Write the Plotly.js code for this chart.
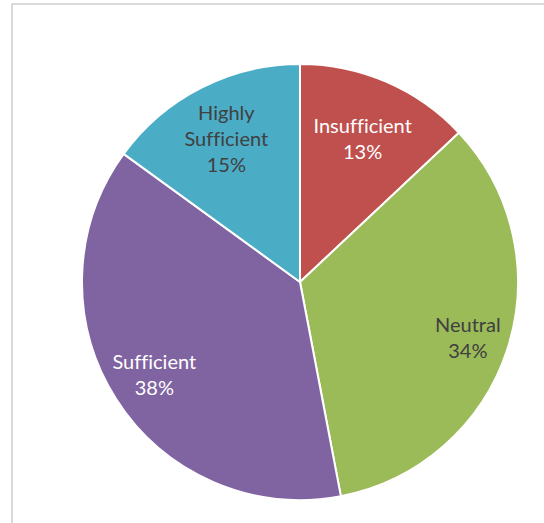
<!DOCTYPE html>
<html>
<head>
<meta charset="utf-8">
<script src="https://cdn.plot.ly/plotly-3.0.1.min.js"></script>
<style>
html,body{margin:0;padding:0;background:#fff;}
#wrap{position:relative;width:544px;height:523px;overflow:hidden;}
#frame{position:absolute;left:11px;top:3px;width:600px;height:600px;border-left:2px solid #D9D9D9;border-top:2px solid #D9D9D9;box-sizing:border-box;pointer-events:none;z-index:5;}
#chart{position:absolute;left:0;top:0;width:544px;height:523px;}
#chart text{font-variant-ligatures:none;font-feature-settings:"liga" 0;}
</style>
</head>
<body>
<div id="wrap">
<div id="chart"></div>
<div id="frame"></div>
</div>
<script>
const categories = ["Insufficient", "Neutral", "Sufficient", "Highly<br>Sufficient"];
const values = [13, 34, 38, 15];
const colors = ["#C0504D", "#9BBB59", "#8064A2", "#4BACC6"];
const textColors = ["#FFFFFF", "#404040", "#FFFFFF", "#404040"];
// radial placement of each data label, as a fraction of the pie radius
const labelRadius = [0.72, 0.81, 0.79, 0.74];

const trace = {
  type: "pie",
  labels: categories,
  values: values,
  sort: false,
  direction: "clockwise",
  rotation: 0,
  marker: {colors: colors, line: {color: "#FFFFFF", width: 2}},
  textinfo: "none",
  hoverinfo: "none",
  showlegend: false
};

const total = values.reduce((a, b) => a + b, 0);
const annotations = [];
let cum = 0;
values.forEach((v, i) => {
  const mid = (cum + v / 2) / total * 2 * Math.PI;
  cum += v;
  const f = labelRadius[i];
  annotations.push({
    xref: "paper", yref: "paper",
    x: 0.5 + 0.5 * f * Math.sin(mid),
    y: 0.5 + 0.5 * f * Math.cos(mid),
    xanchor: "center", yanchor: "middle",
    showarrow: false,
    align: "center",
    text: categories[i] + "<br>" + Math.round(v / total * 100) + "%",
    font: {family: "Lato, 'Open Sans', sans-serif", size: 20, color: textColors[i]}
  });
});

const layout = {
  width: 544,
  height: 523,
  margin: {l: 82, r: 26, t: 64, b: 23},
  paper_bgcolor: "#FFFFFF",
  showlegend: false,
  annotations: annotations
};

Plotly.newPlot("chart", [trace], layout, {displayModeBar: false, staticPlot: true});
</script>
</body>
</html>
